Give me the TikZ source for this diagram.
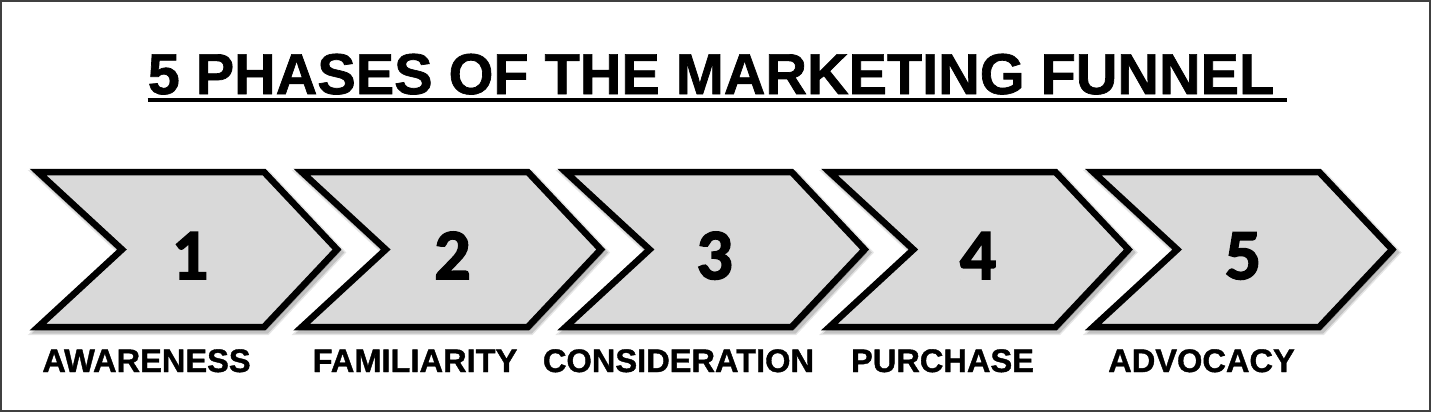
\documentclass[tikz,border=0pt]{standalone}
\usepackage{fontspec}
\setmainfont{Liberation Sans}[BoldFont={Liberation Sans Bold}]
\newfontfamily\titlefont{Liberation Sans Bold}[FakeBold=1.2]
\newfontfamily\labelfont{Liberation Sans Bold}[FakeBold=1.2]
\newfontfamily\digitfont{Carlito Bold}[FakeBold=2.2]
\begin{document}
\begin{tikzpicture}[x=1pt,y=-1pt,
  chevbox/.style={fill=chevgray,draw=black,line width=6.5pt,line join=miter,miter limit=3},
  chevshadow/.style={fill=black,draw=black,line join=miter,miter limit=3},
  numtext/.style={font=\digitfont\fontsize{72}{80}\selectfont,inner sep=0pt,anchor=base},
  labtext/.style={font=\labelfont\fontsize{32.6}{36}\selectfont,inner sep=0pt,anchor=base},
  titletext/.style={font=\titlefont\fontsize{57.6}{64}\selectfont,inner sep=0pt,anchor=base}]
\definecolor{chevgray}{HTML}{D9D9D9}
\definecolor{framegray}{HTML}{404040}
\useasboundingbox (0,0) rectangle (1431,412);
\fill[white] (0,0) rectangle (1431,412);
\draw[framegray,line width=1.6pt] (0.8,0.8) rectangle (1430.2,411.2);
% title
\node[titletext] (title) at (711,94) {5 PHASES OF THE MARKETING FUNNEL};
\draw[line width=3.6pt] ([yshift=-6pt]title.base west) -- ([xshift=13pt,yshift=-6pt]title.base east);
% chevrons
\foreach \i in {0,...,4}{
  \pgfmathsetmacro\dx{263.8*\i}
  \begin{scope}[xshift=\dx pt]
    \begin{scope}[xshift=2.5pt,yshift=-3pt]
      \path[chevshadow,opacity=0.10,line width=10pt] (38,172) -- (264,172) -- (337,249.5) -- (264,327) -- (38,327) -- (122,249.5) -- cycle;
      \path[chevshadow,opacity=0.15,line width=7pt] (38,172) -- (264,172) -- (337,249.5) -- (264,327) -- (38,327) -- (122,249.5) -- cycle;
    \end{scope}
    \draw[chevbox] (38,172) -- (264,172) -- (337,249.5) -- (264,327) -- (38,327) -- (122,249.5) -- cycle;
  \end{scope}
}
% numbers
\node[numtext] (n1) at (190,279) {1};
\node[numtext] (n2) at (452.5,279) {2};
\node[numtext] (n3) at (714.5,279) {3};
\node[numtext] (n4) at (978,279) {4};
\node[numtext] (n5) at (1243,279) {5};
% labels
\node[labtext] (l1) at (146.5,372) {AWARENESS};
\node[labtext] (l2) at (415,372) {FAMILIARITY};
\node[labtext] (l3) at (678.5,372) {CONSIDERATION};
\node[labtext] (l4) at (942.5,372) {PURCHASE};
\node[labtext] (l5) at (1201.5,372) {ADVOCACY};
\end{tikzpicture}
\end{document}
